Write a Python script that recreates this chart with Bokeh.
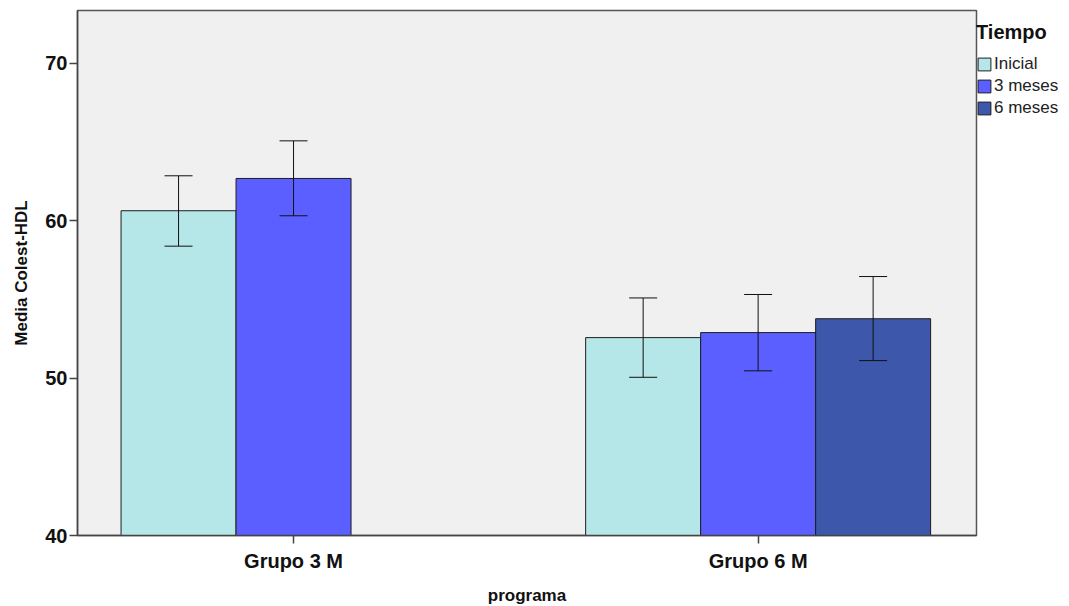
from bokeh.plotting import figure
from bokeh.models import Range1d, Legend, LegendItem, Whisker, ColumnDataSource, TeeHead, FixedTicker
from bokeh.embed import file_html
from bokeh.resources import INLINE

groups = ["Grupo 3 M", "Grupo 6 M"]
series = ["Inicial", "3 meses", "6 meses"]
colors = ["#B5E6E8", "#5B5FFF", "#3D57AB"]
# means and 95% CI per series: [Grupo 3 M, Grupo 6 M] (None = missing)
inicial_mean = [60.63, 52.57]
inicial_lo = [58.38, 50.05]
inicial_hi = [62.85, 55.09]
m3_mean = [62.68, 52.89]
m3_lo = [60.31, 50.46]
m3_hi = [65.07, 55.31]
m6_mean = [None, 53.77]
m6_lo = [None, 51.11]
m6_hi = [None, 56.45]

means = [inicial_mean, m3_mean, m6_mean]
los = [inicial_lo, m3_lo, m6_lo]
his = [inicial_hi, m3_hi, m6_hi]

bar_w = 0.2475
offsets = [-bar_w, 0.0, bar_w]

p = figure(output_backend="svg", toolbar_location=None,
           frame_width=899, frame_height=525,
           x_range=Range1d(-0.465, 1.470), y_range=Range1d(40, 73.35),
           min_border_left=77, min_border_top=10, min_border_bottom=64, min_border_right=0,
           background_fill_color="#F0F0F0", border_fill_color="white")
p.outline_line_color = "#555555"
p.outline_line_width = 1.5
p.grid.visible = False

items = []
for s, name in enumerate(series):
    xs, tops, lo, hi = [], [], [], []
    for g in range(len(groups)):
        if means[s][g] is None:
            continue
        xs.append(g + offsets[s])
        tops.append(means[s][g])
        lo.append(los[s][g])
        hi.append(his[s][g])
    src = ColumnDataSource(dict(x=xs, top=tops, lo=lo, hi=hi))
    r = p.vbar(x="x", top="top", bottom=40, width=bar_w, source=src,
               fill_color=colors[s], line_color="#1E1E1E", line_width=1)
    items.append(LegendItem(label=name, renderers=[r]))
    w = Whisker(base="x", lower="lo", upper="hi", source=src, level="overlay",
                line_color="#111111", line_width=1,
                upper_head=TeeHead(size=28, line_color="#111111", line_width=1),
                lower_head=TeeHead(size=28, line_color="#111111", line_width=1))
    p.add_layout(w)

p.xaxis.ticker = FixedTicker(ticks=[0, 1])
p.xaxis.major_label_overrides = {0: groups[0], 1: groups[1]}
p.yaxis.ticker = FixedTicker(ticks=[40, 50, 60, 70])
for ax in [p.xaxis[0], p.yaxis[0]]:
    ax.axis_line_color = "#444444"
    ax.axis_line_width = 1.5
    ax.major_tick_line_color = "#444444"
    ax.major_tick_line_width = 1.5
    ax.major_tick_out = 8
    ax.major_tick_in = 0
    ax.minor_tick_line_color = None
    ax.major_label_text_font = "Liberation Sans"
    ax.major_label_text_font_style = "bold"
    ax.major_label_text_font_size = "20px"
    ax.major_label_text_color = "#111111"
    ax.axis_label_text_font = "Liberation Sans"
    ax.axis_label_text_font_style = "bold"
    ax.axis_label_text_font_size = "17px"
    ax.axis_label_text_color = "#111111"
p.xaxis.axis_label = "programa"
p.yaxis.axis_label = "Media Colest-HDL"
p.xaxis.major_label_standoff = 6
p.yaxis.major_label_standoff = 2
p.xaxis.axis_label_standoff = 11
p.yaxis.axis_label_standoff = 11

legend = Legend(items=items, location=(0, 417), title="Tiempo",
                title_text_font="Liberation Sans", title_text_font_style="bold",
                title_text_font_size="20px", title_text_color="#111111",
                title_standoff=10,
                label_text_font="Liberation Sans", label_text_font_size="17px",
                label_text_color="#222222",
                glyph_width=16, glyph_height=16, label_height=16, spacing=2,
                label_standoff=2, padding=2, margin=0,
                border_line_color=None, background_fill_alpha=0)
p.add_layout(legend, "right")

open("out.html", "w").write(file_html(p, INLINE))
